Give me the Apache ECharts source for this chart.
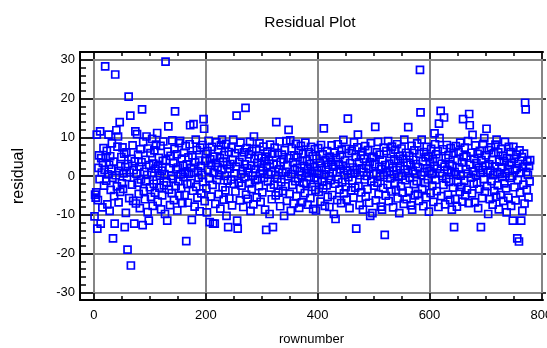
<!DOCTYPE html>
<html>
<head>
<meta charset="utf-8">
<script src="https://cdn.jsdelivr.net/npm/echarts@6/dist/echarts.min.js"></script>
<style>
  html, body { margin: 0; padding: 0; background: #fff; }
  #chart { width: 547px; height: 348px; }
</style>
</head>
<body>
<div id="chart"></div>
<script>
// residual for each row, rows are numbered 1..n in order
var residuals = [
  -10.4, -4.8, -5.6, -4.2, 10.7, -13.6, -6.2, 2.1, 5.3, -0.8, 11.5, -12.3, 4.6, 0.9, -8.1, 3.4, 7.2, -2.5, 1.6, 28.3,
  4.8, -1.2, 6.5, -7.3, 0.4, 10.7, 2.9, -9.0, 5.1, -3.6, 1.8, 8.4, -0.5, -16.1, 3.7, -5.2, -12.3, 26.2, 0.2, 11.8,
  -2.7, 7.6, 10.2, -6.8, 1.3, 13.9, -4.1, 2.6, 4.9, -1.9, 7.4, -3.3, 0.7, 5.8, -13.2, 2.3, -9.5, 6.1, -0.3, -19.0,
  3.1, 20.5, -5.7, 0.9, 15.6, -23.1, 4.4, -2.2, 7.9, -6.4, 1.5, -12.3, 3.8, 11.5, -7.1, 0.6, 10.8, -1.7, 5.5, -4.6,
  2.4, -8.3, 6.9, -0.9, 3.6, 17.2, -12.7, 8.8, -3.9, 1.1, -6.0, 4.2, -1.4, 10.2, 0.3, -9.3, 7.1, -11.5, 2.8, -2.9,
  5.9, -5.4, 0.8, 9.6, -7.7, 3.2, -2.0, 6.6, -4.3, 1.9, 8.1, -1.1, 11.1, -6.6, 2.5, 4.7, -3.0, 0.1, 7.8, -8.6,
  1.4, -5.0, 3.9, 8.9, -2.4, 0.5, -9.8, 29.5, 4.1, -1.6, -11.5, 6.3, 12.8, -3.5, 2.0, -7.5, 5.2, 0.0, -4.4, 9.2,
  -0.7, 3.3, -6.2, 7.0, 16.7, -2.6, 1.7, 5.6, -8.9, 2.2, -1.3, 8.5, -5.1, 9.1, 0.4, -3.1, 4.5, -7.0, 2.7, -0.2,
  6.0, -4.9, 1.0, 7.7, -16.8, 3.0, -2.1, -6.9, 4.8, 0.6, 8.2, 13.1, -1.8, 2.1, -11.3, 5.3, -3.8, 13.4, 0.9, -7.9,
  3.5, 9.4, -2.8, 6.7, -5.6, 1.2, -0.4, 4.0, -9.1, 7.3, 2.6, -4.5, 0.3, 8.0, -1.5, 14.7, 12.2, -6.5, 3.9, 5.7,
  -3.2, -9.4, 6.4, 1.6, 9.1, -0.6, -11.9, 4.3, -5.3, 2.9, 7.5, -2.3, -12.3, 0.8, 5.0, -12.3, -7.2, 3.4, 8.7, -1.0,
  2.3, 6.8, -4.7, 0.2, 4.6, -8.4, 7.9, 1.5, 9.4, -2.9, 3.7, -6.1, 5.4, 0.0, -3.7, 8.3, -10.3, 2.8, -1.2, -13.2,
  6.2, -5.8, 1.9, 3.1, -0.9, 7.4, -7.6, 4.2, 9.4, -2.0, 0.7, 5.9, -4.0, 2.4, 15.6, -11.5, -13.6, 6.9, -1.7, 3.6,
  -6.3, 8.6, 0.5, -2.5, 4.9, 1.3, -8.0, 6.1, -0.3, 3.0, 17.6, -4.8, 7.2, 2.0, -5.9, 0.9, 5.6, -1.9, 8.8, -9.0,
  2.7, -3.4, 6.5, 0.1, -7.3, 10.2, 4.4, -1.1, 1.8, 7.0, -5.5, 3.3, -0.8, 5.2, -2.6, 8.4, 0.6, -6.7, 2.2, 4.7,
  -4.2, 1.4, 7.6, -0.5, 3.8, -8.7, 5.0, -13.9, 2.5, 6.3, -1.4, 0.4, 4.1, -9.8, 8.1, -3.0, 1.0, -6.0, 5.8, -13.2,
  3.2, -2.2, 7.3, 0.3, -5.0, 13.9, 2.9, -0.7, 6.0, -4.3, 1.7, 8.9, -7.8, 3.6, -1.6, 5.5, 0.8, -3.9, 4.3, -10.3,
  6.7, -2.7, 1.1, 9.0, -6.4, 2.8, -0.1, 11.9, 4.6, -4.6, 9.2, -9.0, 0.5, 7.1, -2.3, 3.5, -7.1, 5.3, 1.6, -1.3,
  8.3, -5.2, 2.1, 4.8, -0.6, 6.6, -8.2, 1.2, -3.3, 7.8, 0.2, -6.8, 3.9, 5.7, -1.8, 2.6, -4.4, 8.6, 0.7, -2.1,
  4.0, -7.4, 1.9, 6.2, -0.2, 3.1, -5.7, 7.5, 0.9, -2.8, 5.1, -8.5, 2.3, -0.4, 6.9, -3.6, -8.9, 4.5, 1.3, -1.0,
  7.2, -4.1, 0.6, 3.4, -6.6, 8.0, 2.0, -1.5, 5.6, -3.2, 12.3, 0.4, -7.7, 4.2, 1.5, -2.4, 6.4, -5.4, 2.9, 0.0,
  -8.0, 5.0, -1.1, 3.7, 7.9, -4.9, 0.9, 2.4, -9.8, 6.0, -2.0, -11.1, 4.6, 1.0, -6.2, 8.2, -0.8, 3.0, -3.5, 5.4,
  1.7, -7.0, 6.8, -1.6, 2.7, 9.3, -4.5, 0.3, 4.0, -2.9, 7.0, -6.1, 1.4, 14.8, -0.3, 5.9, -8.3, 3.3, 0.6, -3.7,
  6.5, -1.2, 2.2, -5.6, 8.7, 0.8, -3.0, 4.9, -13.6, 1.6, 7.4, 10.7, -2.6, 3.5, -7.5, 0.2, 5.3, -4.2, 2.0, 6.3,
  -8.7, 1.1, 4.4, -0.9, 7.7, -5.3, 2.6, 0.0, -3.4, 6.7, 1.9, -6.9, 3.6, -10.3, 8.5, -1.4, 4.7, -9.6, 0.5, 5.0,
  -2.5, 3.0, 12.7, -6.3, 0.7, 6.1, -1.7, 8.8, -4.7, 2.4, 5.5, -0.2, -7.9, 1.8, -8.7, 4.1, -3.1, 7.3, 0.3, -15.2,
  2.8, -5.1, 6.4, 0.9, -2.2, 9.0, -6.5, 3.2, 1.2, -0.6, 5.7, -4.0, 7.6, 2.1, -8.1, 0.4, 4.3, -1.9, 6.8, -3.6,
  1.5, 8.2, -5.8, 3.9, -0.3, -9.6, 5.1, 2.5, -2.7, 7.1, 0.1, -4.3, 4.5, -7.2, 9.4, 1.7, -1.1, 6.0, -6.0, 3.4,
  0.8, 12.6, -3.8, 5.2, -0.5, 2.9, -7.6, 7.8, -8.7, 1.4, 4.2, -2.1, 6.6, -5.0, 0.6, 3.1, -1.3, 8.4, -4.6, 2.3,
  -6.4, 5.8, 27.4, 16.4, 0.2, 9.4, -3.3, 3.8, -7.8, 6.2, 1.0, -1.8, 4.8, -5.5, 7.5, 2.0, -0.9, 5.0, -9.2, 1.3,
  3.6, -4.4, 7.0, 0.5, -2.5, 4.3, -6.7, 2.7, 11.0, 8.2, -1.0, 5.6, -3.9, 1.9, 6.4, -8.0, 13.5, 9.8, 0.7, 16.8,
  -5.2, 3.2, 0.0, 6.9, -2.3, 15.1, 2.4, -7.3, 4.6, -0.7, 8.0, 1.6, -4.8, 5.4, -1.5, 3.0, -6.2, 7.2, 0.9, -8.7,
  2.6, -3.0, 5.9, -13.2, 1.1, -5.9, 7.7, 0.4, -7.9, 4.0, -1.6, 6.3, 2.2, -4.1, 8.6, 0.1, -2.8, 3.5, -6.6, 14.7,
  4.9, -1.2, 7.3, -5.0, 1.8, 5.1, -3.5, 0.6, 9.0, -7.0, 16.0, 13.1, 2.9, -0.4, 6.0, -4.5, 10.6, 1.2, -2.0, 4.4,
  -6.8, 7.9, 0.3, 3.3, -1.7, 5.7, -8.3, 2.1, -3.4, 6.5, 0.8, -13.2, 4.1, -5.7, 1.5, 8.3, -0.8, 9.8, -4.0, 2.7,
  5.3, 12.2, -2.6, 0.9, -9.8, 6.7, 3.0, -6.0, 1.4, 7.4, -1.3, 4.2, -7.4, 0.2, 5.9, -3.8, 2.5, 8.1, -5.3, 9.4,
  1.0, -2.4, 6.1, -8.6, 3.7, 0.5, -4.9, 7.0, 2.3, -0.2, 5.2, -6.4, 3.9, -1.9, 8.8, 0.7, -3.2, -9.4, 4.6, 1.8,
  -5.6, 7.5, 2.9, -0.5, 6.2, -7.7, 3.4, 0.0, -11.5, 7.5, 4.4, -2.9, 1.6, -6.3, 5.5, 2.0, -16.1, -1.0, 3.1, -16.9,
  6.6, -4.3, 0.8, -11.5, 4.9, -9.0, 2.4, -2.2, 5.8, -7.1, 18.9, 17.2, 1.1, -3.6, 3.8, 0.3, -5.5, 2.6, -1.4, 4.1
];

// tick positions
var xMajor = [0, 200, 400, 600, 800];
var xMinor = [0, 50, 100, 150, 200, 250, 300, 350, 400, 450, 500, 550, 600, 650, 700, 750, 800];
var yMajor = [-30, -20, -10, 0, 10, 20, 30];
var yMinor = [-30, -28, -26, -24, -22, -20, -18, -16, -14, -12, -10, -8, -6, -4, -2, 0,
              2, 4, 6, 8, 10, 12, 14, 16, 18, 20, 22, 24, 26, 28, 30];

var font = "'Liberation Sans', Arial, sans-serif";
var xMin = -25, xMax = 803, yMin = -32, yMax = 32;

var points = [];
for (var i = 0; i < residuals.length; i++) {
  points.push([i + 1, residuals[i]]);
}

function xAx(pos, ticks, len, extra) {
  var ax = {
    type: 'value', min: xMin, max: xMax, position: pos,
    axisLine: {show: false, onZero: false},
    axisTick: {show: true, inside: true, length: len, customValues: ticks, lineStyle: {color: '#000', width: 1.5}},
    axisLabel: {show: false},
    splitLine: {show: false}
  };
  return Object.assign(ax, extra || {});
}
function yAx(pos, ticks, len, extra) {
  var ax = {
    type: 'value', min: yMin, max: yMax, position: pos,
    axisLine: {show: false, onZero: false},
    axisTick: {show: true, inside: true, length: len, customValues: ticks, lineStyle: {color: '#000', width: 1.5}},
    axisLabel: {show: false},
    splitLine: {show: false}
  };
  return Object.assign(ax, extra || {});
}

var chart = echarts.init(document.getElementById('chart'), null, {renderer: 'canvas'});
chart.setOption({
  animation: false,
  backgroundColor: '#fff',
  title: {
    text: 'Residual Plot', left: 305, top: 10, textAlign: 'center',
    textStyle: {fontFamily: font, fontSize: 15.5, fontWeight: 'normal', color: '#000'}
  },
  grid: {left: 80, right: 4, top: 52, bottom: 48, containLabel: false, outerBoundsMode: 'none'},
  xAxis: [
    xAx('bottom', xMinor, 4, {
      axisLine: {show: true, onZero: false, lineStyle: {color: '#000', width: 2}},
      axisLabel: {show: true, customValues: xMajor, margin: 9, fontFamily: font, fontSize: 13, color: '#000'},
      name: 'rownumber', nameLocation: 'middle', nameGap: 33,
      nameTextStyle: {fontFamily: font, fontSize: 13, color: '#000'}
    }),
    xAx('bottom', xMajor, 7, {
      splitLine: {show: true, lineStyle: {color: '#858585', width: 2}}
    }),
    xAx('top', xMinor, 4, {
      axisLine: {show: true, onZero: false, lineStyle: {color: '#000', width: 2}}
    }),
    xAx('top', xMajor, 7)
  ],
  yAxis: [
    yAx('left', yMinor, 6, {
      axisLine: {show: true, onZero: false, lineStyle: {color: '#000', width: 2}},
      axisLabel: {show: true, customValues: yMajor, margin: 5, fontFamily: font, fontSize: 13, color: '#000'},
      name: 'residual', nameLocation: 'middle', nameGap: 53, nameRotate: 90,
      nameTextStyle: {fontFamily: font, fontSize: 16, color: '#000'}
    }),
    yAx('left', yMajor, 13, {
      splitLine: {show: true, lineStyle: {color: '#858585', width: 2}}
    }),
    yAx('right', yMajor, 3, {
      axisTick: {show: true, inside: false, length: 3, customValues: yMajor, lineStyle: {color: '#000', width: 1.5}}
    })
  ],
  series: [{
    type: 'scatter',
    xAxisIndex: 0, yAxisIndex: 0,
    data: points,
    symbol: 'rect',
    symbolSize: 7,
    itemStyle: {color: 'rgba(0,0,0,0)', borderColor: '#0000ff', borderWidth: 1.7, opacity: 1},
    emphasis: {disabled: true}
  }]
});
</script>
</body>
</html>
